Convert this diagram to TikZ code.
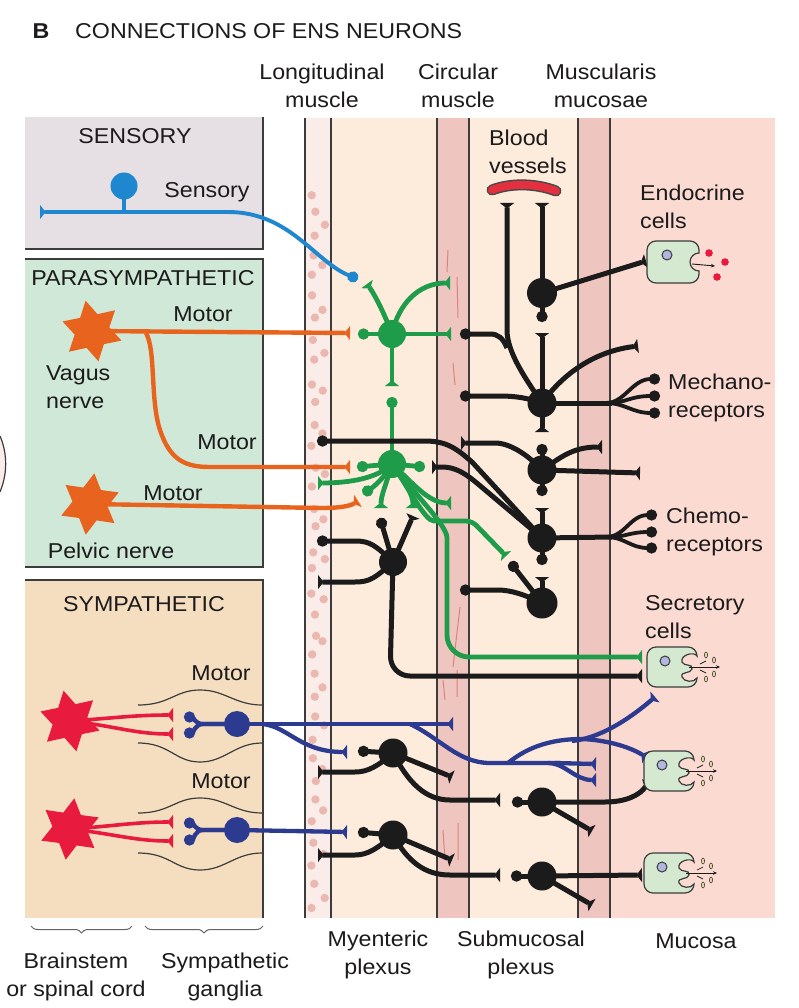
\documentclass[tikz,border=0pt]{standalone}
\usepackage{fontspec}
\setmainfont[FakeStretch=1.08]{Liberation Sans}
\usetikzlibrary{arrows.meta,shapes.geometric,decorations.pathreplacing}
\pgfdeclarelayer{back}\pgfdeclarelayer{mid}
\pgfsetlayers{back,mid,main}
\definecolor{sensbg}{HTML}{E6E0E4}
\definecolor{parabg}{HTML}{CFE8D7}
\definecolor{sympbg}{HTML}{F5DEC0}
\definecolor{longbg}{HTML}{FAEDE9}
\definecolor{plexbg}{HTML}{FDEBDC}
\definecolor{musbg}{HTML}{EFC6BF}
\definecolor{mucbg}{HTML}{FADAD1}
\definecolor{dotpink}{HTML}{EAB8AF}
\definecolor{streak}{HTML}{D9837D}
\definecolor{ngreen}{HTML}{1E9C4A}
\definecolor{norange}{HTML}{E8641E}
\definecolor{nblue}{HTML}{1F87D0}
\definecolor{ndblue}{HTML}{2C3A8F}
\definecolor{nred}{HTML}{E81A3E}
\definecolor{nblack}{HTML}{1B1B1B}
\definecolor{txt}{HTML}{1C1A1B}
\definecolor{cellg}{HTML}{D5E8D0}
\definecolor{nucl}{HTML}{B4B6E2}
\definecolor{vessel}{HTML}{E3303F}
\definecolor{edgeg}{HTML}{3C3C3C}
\definecolor{dropc}{HTML}{E6D49A}
\tikzset{
 Tb/.tip={Triangle[reversed,length=5.5pt,width=14pt]},
 Dt/.tip={Circle[length=11pt]},
 lbl/.style={font=\fontsize{21.5}{28}\selectfont, text=txt, inner sep=0pt, align=center},
 lbll/.style={lbl, align=left, anchor=west},
 kline/.style={line width=5pt, draw=nblack},
 kthin/.style={line width=3.8pt, draw=nblack},
 gline/.style={line width=4.8pt, draw=ngreen},
 oline/.style={line width=4.4pt, draw=norange},
 bline/.style={line width=3.9pt, draw=nblue},
 dline/.style={line width=4.3pt, draw=ndblue},
 rline/.style={line width=3.6pt, draw=nred},
 thinl/.style={line width=1.2pt, draw=edgeg},
 kcell/.style={circle, fill=nblack, minimum size=29pt, inner sep=0pt},
 gcell/.style={circle, fill=ngreen, minimum size=28pt, inner sep=0pt},
 dcell/.style={circle, fill=ndblue, minimum size=26pt, inner sep=0pt},
 starn/.style={star, star points=6, star point ratio=1.75, minimum size=62pt, inner sep=0pt},
 endocell/.pic={
  \draw[edgeg, line width=1.2pt, fill=cellg] (-17,-21) -- (17,-21) arc[start angle=-90,end angle=0,radius=9] -- (26,-9) arc[start angle=-90,end angle=-270,radius=9] -- (26,12) arc[start angle=0,end angle=90,radius=9] -- (-17,21) arc[start angle=90,end angle=180,radius=9] -- (-26,-12) arc[start angle=180,end angle=270,radius=9] -- cycle;
  \draw[edgeg, line width=1pt, fill=nucl] (-6,-7) circle[radius=5];
  \draw[nblack, line width=0.9pt, -{Stealth[length=4pt,width=3.5pt]}] (19,2) -- (42,4);
  \fill[nred] (36,-9) circle[radius=3.8] (52,0) circle[radius=3.8] (44,15) circle[radius=3.8];
 },
 seccell/.pic={
  \draw[edgeg, line width=1.2pt, fill=cellg] (-16,-20) -- (16,-20) arc[start angle=-90,end angle=0,radius=9]
   .. controls (22,-16) and (8,-12) .. (10,-5) .. controls (12,0) and (21,-4) .. (20,2)
   .. controls (19,7) and (8,4) .. (10,10) .. controls (12,15) and (22,16) .. (25,11)
   arc[start angle=0,end angle=90,radius=9] -- (-16,20) arc[start angle=90,end angle=180,radius=9] -- (-25,-11) arc[start angle=180,end angle=270,radius=9] -- cycle;
  \draw[edgeg, line width=1pt, fill=nucl] (-7,-6) circle[radius=5];
  \draw[nblack, line width=0.9pt, -{Stealth[length=4pt,width=3.5pt]}] (17,0) -- (48,0);
  \draw[nblack, line width=0.7pt] (28,-3) -- (34,-6) (28,3) -- (34,6);
  \filldraw[fill=dropc, draw=nblack!80, line width=0.6pt] (34,-12) circle[x radius=1.6, y radius=3] (42,-7) circle[x radius=1.6, y radius=3] (34,12) circle[x radius=1.6, y radius=3] (42,7) circle[x radius=1.6, y radius=3];
 }
}
\begin{document}
\begin{tikzpicture}[x=1pt,y=-1pt]
\useasboundingbox (0,0) rectangle (798,1008);
% ---------- background panels ----------
\begin{pgfonlayer}{back}
\fill[white] (0,0) rectangle (798,1008);
\fill[sensbg] (25,117) rectangle (263,249);
\draw[edgeg, line width=1.5pt] (263,117) -- (263,249) -- (25,249);
\fill[parabg] (25,259) rectangle (263,567);
\draw[edgeg, line width=1.5pt] (25,259) -- (263,259) -- (263,567) -- (25,567);
\fill[sympbg] (25,580) rectangle (263,918);
\draw[edgeg, line width=1.5pt] (25,580) -- (263,580) -- (263,918);
\fill[longbg] (305,118) rectangle (331,918);
\fill[plexbg] (331,118) rectangle (437,918);
\fill[musbg] (437,118) rectangle (469,918);
\fill[plexbg] (469,118) rectangle (578,918);
\fill[musbg] (578,118) rectangle (610,918);
\fill[mucbg] (610,118) rectangle (775,918);
\pgfmathsetseed{7}
\foreach \k in {0,...,34} {
  \pgfmathsetmacro\ya{190+\k*21+rnd*6}
  \pgfmathsetmacro\xa{311+rnd*5}
  \pgfmathsetmacro\yb{200+\k*21+rnd*6}
  \pgfmathsetmacro\xb{322+rnd*3}
  \fill[dotpink] (\xa,\ya) circle[radius=4.2];
  \ifodd\k \fill[dotpink] (\xb,\yb) circle[radius=4.2]; \fi
}
\foreach \x in {305,331,437,469,578,610} \draw[edgeg, line width=1.3pt] (\x,118) -- (\x,918);
\draw[streak, line width=1pt] (448,250) -- (447,272) (457,277) -- (458,318) (453,363) -- (455,385)
  (460,607) -- (453,667) (443,680) -- (445,700) (457,670) -- (457,697) (443,830) -- (445,860) (458,823) -- (458,860);
\fill[longbg] (0,436) .. controls (6,450) and (9,470) .. (0,492) -- cycle;
\draw[edgeg, line width=1.2pt] (0,436) .. controls (6,450) and (9,470) .. (0,492);
% ganglion outlines
\draw[thinl] (138,705) .. controls (170,705) and (175,690) .. (200,690) .. controls (225,690) and (235,705) .. (262,705);
\draw[thinl] (138,743) .. controls (170,743) and (175,762) .. (200,762) .. controls (225,762) and (235,743) .. (262,743);
\draw[thinl] (138,813) .. controls (170,813) and (175,798) .. (200,798) .. controls (225,798) and (235,813) .. (262,813);
\draw[thinl] (138,853) .. controls (170,853) and (175,870) .. (200,870) .. controls (225,870) and (235,853) .. (262,853);
\end{pgfonlayer}
% ---------- texts ----------
\node[lbl, font=\bfseries\fontsize{21.5}{28}\selectfont] (tB) at (41,31) {B};
\node[lbll] (ttitle) at (75,31) {CONNECTIONS OF ENS NEURONS};
\node[lbl] (tlong) at (322,86) {Longitudinal\\muscle};
\node[lbl] (tcirc) at (458,86) {Circular\\muscle};
\node[lbl] (tmm) at (601,86) {Muscularis\\mucosae};
\node[lbl] (tsens) at (135,136) {SENSORY};
\node[lbl] (tsens2) at (207,192) {Sensory};
\node[lbl] (tpara) at (143,278) {PARASYMPATHETIC};
\node[lbl] (tmot1) at (203,314) {Motor};
\node[lbll] (tvag) at (46,387) {Vagus\\nerve};
\node[lbl] (tmot2) at (227,442) {Motor};
\node[lbl] (tmot3) at (173,493) {Motor};
\node[lbl] (tpel) at (111,551) {Pelvic nerve};
\node[lbl] (tsymp) at (144,604) {SYMPATHETIC};
\node[lbl] (tmot4) at (221,673) {Motor};
\node[lbl] (tmot5) at (221,781) {Motor};
\node[lbll] (tblood) at (489,152) {Blood\\vessels};
\node[lbll] (tendo) at (640,207) {Endocrine\\cells};
\node[lbll] (tmech) at (668,398) {Mechano-\\receptors};
\node[lbll] (tchem) at (666,532) {Chemo-\\receptors};
\node[lbll] (tsec) at (645,617) {Secretory\\cells};
\node[lbl] (tbrain) at (76,977) {Brainstem\\or spinal cord};
\node[lbl] (tgang) at (225,977) {Sympathetic\\ganglia};
\node[lbl] (tmyen) at (378,955) {Myenteric\\plexus};
\node[lbl] (tsubm) at (521,955) {Submucosal\\plexus};
\node[lbl] (tmuc) at (696,941) {Mucosa};
\draw[edgeg!80, line width=1pt, decorate, decoration={brace, amplitude=7pt}] (132,926) -- (31,926);
\draw[edgeg!80, line width=1pt, decorate, decoration={brace, amplitude=7pt}] (263,926) -- (145,926);
% ---------- cells ----------
\node[circle, fill=nblue, minimum size=27pt, inner sep=0pt] (sc) at (124,186) {};
\node[starn, fill=norange, rotate=12] (vagus) at (92,331) {};
\node[starn, fill=norange, rotate=-8] (pelvic) at (90,504) {};
\node[starn, fill=nred, rotate=12] (R1) at (70,721) {};
\node[starn, fill=nred, rotate=-8] (R2) at (70,829) {};
\node[dcell] (B1) at (237,724) {};
\node[dcell] (B2) at (237,830) {};
\node[gcell] (G1) at (392,334) {};
\node[gcell] (G2) at (392,464) {};
\node[kcell, minimum size=28pt] (M1) at (393,562) {};
\node[kcell, minimum size=30pt] (S1) at (542,293) {};
\node[kcell] (S2) at (542,403) {};
\node[kcell] (S3) at (542,470) {};
\node[kcell] (S4) at (542,538) {};
\node[kcell, minimum size=31pt] (S5) at (542,603) {};
\node[kcell] (A) at (393,753) {};
\node[kcell] (B) at (542,802) {};
\node[kcell] (C) at (393,835) {};
\node[kcell] (D) at (542,876) {};
\pic (endo) at (673,262) {endocell};
\pic (sec1) at (672,667) {seccell};
\pic (sec2) at (669,771) {seccell};
\pic (sec3) at (669,873) {seccell};
% ---------- connectors ----------
\begin{pgfonlayer}{mid}
% sensory
\draw[bline] (sc.center) -- (124,212);
\draw[bline, Tb-Dt] (40,212) -- (228,212) .. controls (290,212) and (315,262) .. (358,279);
% parasympathetic
\draw[oline,-Tb] (vagus.center) -- (350,333);
\draw[oline,-Tb] (146,333) .. controls (156,350) and (150,400) .. (160,430) .. controls (170,460) and (185,467) .. (210,467) -- (350,467);
\draw[oline,-Tb] (pelvic.center) -- (322,508) .. controls (340,508) and (350,506) .. (358,501);
% green upper
\draw[gline,-Dt] (G1.center) -- (358,334);
\draw[gline,-Tb] (G1.center) .. controls (385,315) and (375,295) .. (367,284);
\draw[gline,-Tb] (G1.center) .. controls (398,305) and (418,283) .. (450,283);
\draw[gline,-Tb] (G1.center) -- (451,334);
\draw[gline,-Tb] (G1.center) -- (392,386);
% green lower
\draw[gline,-Dt] (G2.center) -- (392,397);
\draw[gline,-Dt] (G2.center) -- (357,467);
\draw[gline,-Dt] (G2.center) -- (425,467);
\draw[gline,-Tb] (G2.center) .. controls (378,478) and (350,483) .. (318,483);
\draw[gline,-Dt] (G2.center) .. controls (385,478) and (372,488) .. (363,494);
\draw[gline,-Tb] (G2.center) .. controls (386,485) and (381,495) .. (381,508);
\draw[gline,-Tb] (G2.center) .. controls (405,482) and (413,495) .. (413,508);
\draw[gline,-Tb] (G2.center) .. controls (412,482) and (428,503) .. (451,503);
\draw[gline,-Tb,rounded corners=6pt] (G2.center) .. controls (410,490) and (425,521) .. (440,521) -- (472,521) -- (506,556);
\draw[gline,-Tb,rounded corners=22pt] (G2.center) .. controls (415,495) and (447,525) .. (447,560) -- (447,657) -- (642,657);
% black myenteric upper
\draw[kline,-Dt] (M1.center) -- (380,518);
\draw[kline,-Tb] (M1.center) -- (413,516);
\draw[kline,-Dt] (M1.center) .. controls (375,545) and (370,541) .. (355,541) -- (317,541);
\draw[kline,-Tb] (M1.center) .. controls (375,578) and (370,582) .. (355,582) -- (318,582);
\draw[kline,-Tb,rounded corners=20pt] (M1.center) -- (390,676) -- (642,676);
% submucosal column
\draw[kline,-Tb] (S1.center) -- (542,203);
\draw[kline,-Dt] (S1.center) -- (542,322);
\draw[kline,-Tb] (S2.center) -- (542,333);
\draw[kline,-Tb] (S2.center) -- (542,432);
\draw[kline,-Dt] (S3.center) -- (542,444);
\draw[kline,-Dt] (S3.center) -- (542,496);
\draw[kline,-Tb] (S4.center) -- (542,508);
\draw[kline,-Dt] (S4.center) -- (542,565);
\draw[kline,-Tb] (S5.center) -- (542,577);
\draw[kline,-Tb] (S1.center) -- (646,261);
\draw[kline,-Tb] (S2.center) .. controls (525,378) and (507,352) .. (507,330) -- (507,203);
\draw[kline,-Dt] (507,348) .. controls (503,338) and (498,334) .. (490,334) -- (460,334);
\draw[kline,-Dt] (S2.center) .. controls (528,398) and (515,396) .. (500,396) -- (460,396);
\draw[kline,-Tb] (S2.center) .. controls (560,378) and (590,352) .. (638,346);
\draw[kline] (S2.center) -- (612,403);
\draw[kthin,-Dt] (606,403) .. controls (625,403) and (632,379) .. (660,379);
\draw[kthin,-Dt] (610,403) .. controls (625,403) and (630,396) .. (660,396);
\draw[kthin,-Dt] (606,403) .. controls (625,403) and (632,413) .. (660,413);
\draw[kline,-Tb] (S3.center) .. controls (528,455) and (510,443) .. (495,443) -- (461,443);
\draw[kline,-Tb] (S3.center) .. controls (560,458) and (572,447) .. (602,447);
\draw[kline,-Tb] (S3.center) -- (640,473);
\draw[kline, Dt-] (317,441) -- (425,441) .. controls (447,441) and (457,449) .. (472,462) -- (S4.center);
\draw[kline, Tb-] (432,467) -- (442,467) .. controls (456,467) and (466,474) .. (478,484) -- (S4.center);
\draw[kline] (S4.center) -- (612,537);
\draw[kthin,-Dt] (606,537) .. controls (625,537) and (630,515) .. (657,515);
\draw[kthin,-Dt] (610,537) .. controls (625,537) and (630,532) .. (657,532);
\draw[kthin,-Dt] (606,537) .. controls (625,537) and (630,548) .. (657,548);
\draw[kline,-Dt] (S5.center) -- (510,562);
\draw[kline,-Dt] (S5.center) .. controls (525,595) and (512,590) .. (497,590) -- (460,590);
% sympathetic
\draw[rline,-Tb] (R1.center) .. controls (115,718) and (135,715) .. (173,715);
\draw[rline,-Tb] (R1.center) .. controls (115,726) and (135,734) .. (173,734);
\draw[rline,-Tb] (R2.center) .. controls (115,826) and (135,822) .. (173,822);
\draw[rline,-Tb] (R2.center) .. controls (115,834) and (135,841) .. (173,841);
\draw[dline,-Dt] (B1.center) -- (203,724) .. controls (195,724) and (193,717) .. (184,717);
\draw[dline,-Dt] (B1.center) -- (203,724) .. controls (195,724) and (193,733) .. (184,733);
\draw[dline,-Dt] (B2.center) -- (203,830) .. controls (195,830) and (193,823) .. (184,823);
\draw[dline,-Dt] (B2.center) -- (203,830) .. controls (195,830) and (193,840) .. (184,840);
\draw[dline,-Tb] (B1.center) -- (453,724);
\draw[dline,-Tb] (262,724) .. controls (288,726) and (300,752) .. (347,752);
\draw[dline] (410,724) .. controls (440,738) and (458,763) .. (490,763) -- (560,763);
\draw[dline,-Tb] (555,763) -- (596,764);
\draw[dline,-Tb] (548,763) .. controls (565,763) and (575,780) .. (596,780);
\draw[dline,-Tb] (508,763) .. controls (530,745) and (555,739) .. (582,739) .. controls (605,740) and (628,746) .. (646,757);
\draw[dline,-Tb] (572,741) .. controls (600,738) and (628,720) .. (655,697);
\draw[dline,-Tb] (B2.center) -- (347,832);
% black lower
\draw[kline,-Dt] (A.center) -- (358,751);
\draw[kline,-Tb] (A.center) .. controls (378,766) and (368,772) .. (355,772) -- (318,772);
\draw[kline,-Tb] (A.center) -- (452,777);
\draw[kline,-Tb] (A.center) .. controls (408,782) and (425,800) .. (450,800) -- (500,800);
\draw[kline,-Dt] (B.center) -- (512,802);
\draw[kline,-Tb] (B.center) -- (605,802) .. controls (626,802) and (640,795) .. (648,783);
\draw[kline,-Tb] (B.center) -- (592,831);
\draw[kline,-Dt] (C.center) -- (358,832);
\draw[kline,-Tb] (C.center) .. controls (378,848) and (368,855) .. (355,855) -- (318,855);
\draw[kline,-Tb] (C.center) -- (452,860);
\draw[kline,-Tb] (C.center) .. controls (408,862) and (425,875) .. (450,875) -- (500,875);
\draw[kline,-Dt] (D.center) -- (511,876);
\draw[kline,-Tb] (D.center) -- (642,875);
\draw[kline,-Tb] (D.center) -- (592,905);
% blood vessel
\draw[line width=11pt, line cap=round, draw=nblack!80] (492,190) .. controls (510,183) and (535,183) .. (556,191);
\draw[line width=8pt, line cap=round, draw=vessel] (492,190) .. controls (510,183) and (535,183) .. (556,191);
\end{pgfonlayer}
\end{tikzpicture}
\end{document}
